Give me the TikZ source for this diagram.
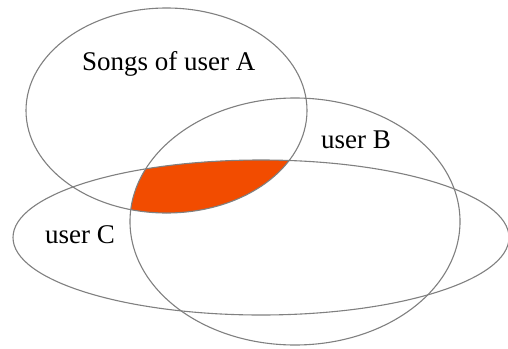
\documentclass[tikz,border=0pt]{standalone}
\usepackage{fontspec}
\setmainfont{Liberation Serif}
\definecolor{hot}{RGB}{242,76,0}
\definecolor{rim}{RGB}{128,128,128}
\begin{document}
\begin{tikzpicture}[x=1pt,y=-1pt,
  setline/.style={draw=rim,line width=1.1pt},
  lbl/.style={anchor=base west,inner sep=0pt,font=\fontsize{27}{30}\selectfont}]
\useasboundingbox (0,0) rectangle (508,348);
\fill[white] (0,0) rectangle (508,348);
\coordinate (ca) at (166.5,110.5);
\coordinate (cb) at (295,221.5);
\coordinate (cc) at (261,237.5);
\begin{scope}
  \clip (ca) ellipse [x radius=140.5pt,y radius=102.5pt];
  \clip (cb) ellipse [x radius=165pt,y radius=123.5pt];
  \fill[hot] (cc) ellipse [x radius=248pt,y radius=77.5pt];
\end{scope}
\draw[setline] (ca) ellipse [x radius=140.5pt,y radius=102.5pt];
\draw[setline] (cb) ellipse [x radius=165pt,y radius=123.5pt];
\draw[setline] (cc) ellipse [x radius=248pt,y radius=77.5pt];
\node[lbl] (la) at (82,70) {Songs of user A};
\node[lbl] (lb) at (321,148) {user B};
\node[lbl] (lc) at (45,243) {user C};
\end{tikzpicture}
\end{document}
